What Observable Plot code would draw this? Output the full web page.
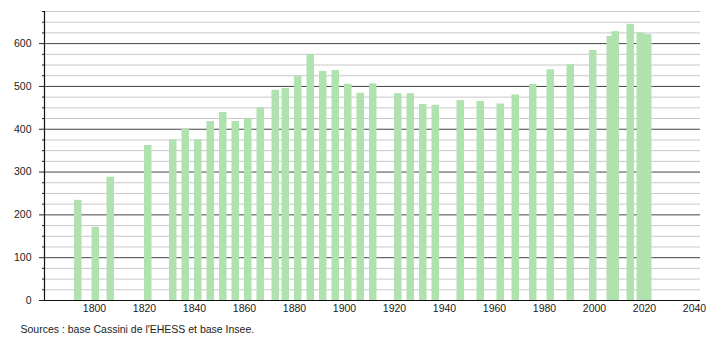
<!DOCTYPE html>
<html>
<head>
<meta charset="utf-8">
<script src="https://cdn.jsdelivr.net/npm/d3@7"></script>
<script src="https://cdn.jsdelivr.net/npm/@observablehq/plot@0.6"></script>
<style>
  body { margin: 0; background: #fff; }
  svg { font-family: "Liberation Sans", Arial, sans-serif; }
</style>
</head>
<body>
<div id="chart"></div>
<script>
const years = [1793, 1800, 1806, 1821, 1831, 1836, 1841, 1846, 1851, 1856, 1861, 1866, 1872, 1876, 1881, 1886, 1891, 1896, 1901, 1906, 1911, 1921, 1926, 1931, 1936, 1946, 1954, 1962, 1968, 1975, 1982, 1990, 1999, 2006, 2008, 2014, 2018, 2021];
const population = [234, 171, 288, 362, 375, 400, 375, 418, 439, 418, 424, 450, 491, 495, 523, 575, 535, 537, 505, 484, 506, 483, 483, 458, 456, 467, 465, 459, 480, 505, 539, 551, 584, 617, 628, 645, 625, 621];
const xTicks = [1800, 1820, 1840, 1860, 1880, 1900, 1920, 1940, 1960, 1980, 2000, 2020, 2040];
const yMajor = [0, 100, 200, 300, 400, 500, 600];
const yMinor = [25, 50, 75, 125, 150, 175, 225, 250, 275, 325, 350, 375, 425, 450, 475, 525, 550, 575, 625, 650, 675];
const caption = "Sources : base Cassini de l'EHESS et base Insee.";

const data = years.map((y, i) => ({year: y, pop: population[i]}));

const chart = Plot.plot({
  width: 710,
  height: 340,
  marginLeft: 44,
  marginRight: 10,
  marginTop: 11,
  marginBottom: 40,
  style: {fontFamily: "Liberation Sans, Arial, sans-serif", fontSize: "10.5px", color: "#222"},
  x: {domain: [1780, 2042.4], label: null},
  y: {domain: [0, 675], label: null},
  marks: [
    Plot.ruleY(yMinor, {stroke: "#c8c8c8", strokeWidth: 1}),
    Plot.ruleY(yMajor.filter(d => d > 0), {stroke: "#444", strokeWidth: 1}),
    Plot.rectY(data, {x1: d => d.year - 1, x2: d => d.year + 2, y1: 0, y2: "pop", fill: "#b0e2b0", inset: 0}),
    Plot.axisY({ticks: yMinor, tickSize: 2, tickFormat: () => "", stroke: "#222"}),
    Plot.axisY({ticks: yMajor, tickSize: 5, tickPadding: 8, tickFormat: d => String(d), stroke: "#222", fill: "#222"}),
    Plot.axisX({ticks: xTicks, tickSize: 0, tickPadding: 4, tickFormat: d => String(d), fill: "#222"}),
    Plot.ruleX([1780], {y1: 0, y2: 675, stroke: "#111", strokeWidth: 1.2}),
    Plot.ruleY([0], {stroke: "#111", strokeWidth: 1.2}),
    Plot.text([caption], {frameAnchor: "bottom-left", dx: -24, dy: 29, textAnchor: "start", lineAnchor: "middle", fontSize: 10.5, fill: "#222"})
  ]
});
document.getElementById("chart").appendChild(chart);
</script>
</body>
</html>
